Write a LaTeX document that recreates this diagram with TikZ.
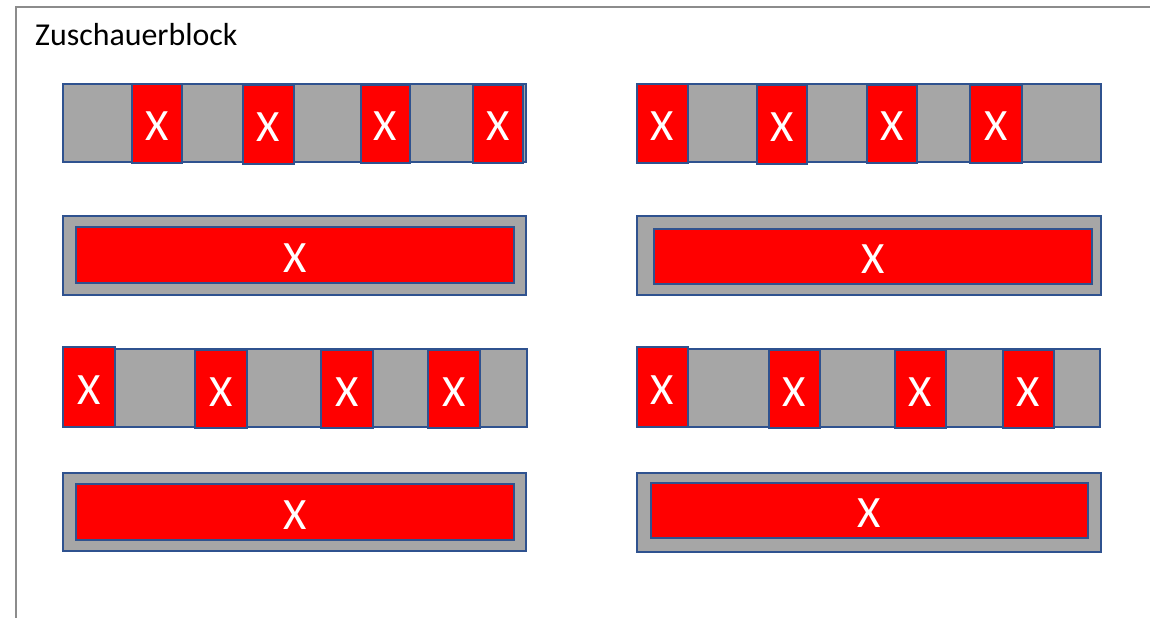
\documentclass[tikz,border=0pt]{standalone}
\usepackage{fontspec}
\setmainfont{Carlito}
\definecolor{seatgray}{HTML}{A6A6A6}
\definecolor{seatred}{HTML}{FF0000}
\definecolor{edgeblue}{HTML}{2F528F}
\definecolor{framegray}{HTML}{8C8C8C}
\tikzset{
  boxbase/.style={draw=edgeblue, line width=2.5bp, inner sep=0pt, outer sep=0pt, anchor=center},
  barbox/.style={boxbase, fill=seatgray},
  seatbox/.style={boxbase, fill=seatred, text=white, font=\fontsize{45}{45}\selectfont, text height=34bp, text depth=0bp},
  titletext/.style={font=\fontsize{32}{32}\selectfont, anchor=base west, inner sep=0pt},
}
\newcommand\mybox[6]{%
  \node[#6, minimum width={(#4-#2)*1bp}, minimum height={(#5-#3)*1bp}] (#1) at ({(#2+#4)/2},{(#3+#5)/2}) {};}
\newcommand\myseat[6]{%
  \node[seatbox, minimum width={(#4-#2)*1bp}, minimum height={(#5-#3)*1bp}] (#1) at ({(#2+#4)/2},{(#3+#5)/2}) {#6};}
\begin{document}
\begin{tikzpicture}[x=1bp, y=-1bp]
\useasboundingbox (0,0) rectangle (1150,618);
\begin{scope}
\clip (0,0) rectangle (1150,618);
\draw[framegray, line width=2bp] (16,640) -- (16,7) -- (1170,7);
\end{scope}
\node[titletext] (title) at (35,46) {Zuschauerblock};
% Row 1 left
\mybox{r1l}{63}{84}{526}{162}{barbox}
\myseat{r1la}{132}{84}{182}{163}{X}
\myseat{r1lb}{243}{85}{294}{164}{X}
\myseat{r1lc}{361}{85}{410}{163}{X}
\myseat{r1ld}{473}{85}{523}{163}{X}
% Row 1 right
\mybox{r1r}{637}{84}{1101}{162}{barbox}
\myseat{r1ra}{637}{84}{688}{163}{X}
\myseat{r1rb}{757}{85}{807}{164}{X}
\myseat{r1rc}{867}{85}{917}{163}{X}
\myseat{r1rd}{970}{85}{1022}{163}{X}
% Row 2
\mybox{r2l}{63}{216}{526}{295}{barbox}
\myseat{r2li}{76}{227}{514}{283}{X}
\mybox{r2r}{637}{216}{1101}{295}{barbox}
\myseat{r2ri}{654}{229}{1092}{284}{X}
% Row 3 left
\mybox{r3l}{63}{349}{527}{427}{barbox}
\myseat{r3la}{63}{347}{115}{427}{X}
\myseat{r3lb}{195}{350}{247}{428}{X}
\myseat{r3lc}{321}{350}{373}{428}{X}
\myseat{r3ld}{428}{350}{480}{428}{X}
% Row 3 right
\mybox{r3r}{637}{349}{1100}{427}{barbox}
\myseat{r3ra}{637}{347}{688}{427}{X}
\myseat{r3rb}{769}{350}{820}{428}{X}
\myseat{r3rc}{895}{350}{946}{428}{X}
\myseat{r3rd}{1003}{350}{1054}{428}{X}
% Row 4
\mybox{r4l}{63}{473}{526}{551}{barbox}
\myseat{r4li}{76}{484}{514}{540}{X}
\mybox{r4r}{637}{473}{1101}{552}{barbox}
\myseat{r4ri}{651}{483}{1088}{538}{X}
\end{tikzpicture}
\end{document}
